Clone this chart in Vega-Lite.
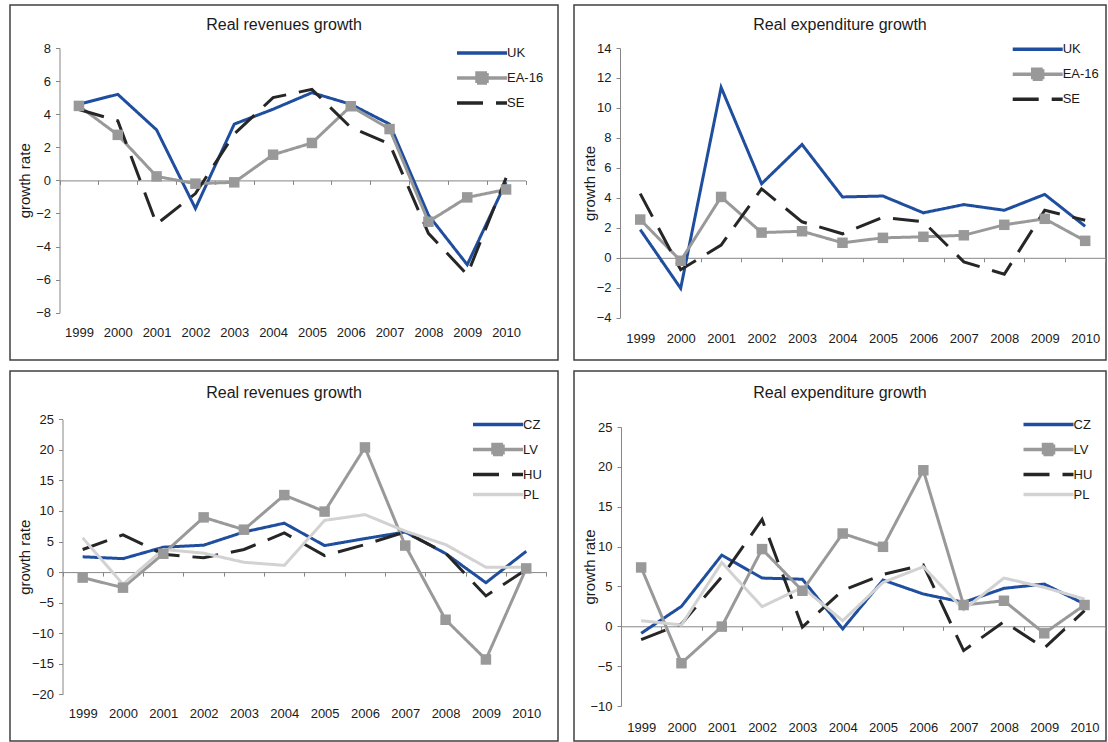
{
  "$schema": "https://vega.github.io/schema/vega-lite/v6.json",
  "padding": {"left": 9, "top": 4, "right": 2, "bottom": 1},
  "background": "white",
  "config": {
    "view": {"stroke": "#404040", "strokeWidth": 1.5},
    "font": "Liberation Sans",
    "axis": {"labelFont": "Liberation Sans", "labelFontSize": 13, "labelColor": "#1a1a1a", "domainColor": "#868686", "tickColor": "#868686", "domainWidth": 1, "tickWidth": 1, "grid": false, "titleFont": "Liberation Sans", "titleFontSize": 15, "titleFontWeight": "normal", "titleColor": "#1a1a1a", "labelOverlap": false},
    "title": {"font": "Liberation Sans", "fontSize": 16, "fontWeight": "normal", "color": "#1a1a1a"},
    "legend": {"padding": 0, "symbolType": "M-5,0H5", "symbolSize": 100, "symbolStrokeWidth": 3.5, "labelOffset": 18, "rowPadding": 6, "labelFontSize": 13, "labelFont": "Liberation Sans", "labelColor": "#1a1a1a"}
  },
  "datasets": {
    "rev1": [
      {"year": "1999", "s": "UK", "v": 4.6}, {"year": "2000", "s": "UK", "v": 5.2}, {"year": "2001", "s": "UK", "v": 3.05}, {"year": "2002", "s": "UK", "v": -1.7}, {"year": "2003", "s": "UK", "v": 3.4}, {"year": "2004", "s": "UK", "v": 4.3}, {"year": "2005", "s": "UK", "v": 5.3}, {"year": "2006", "s": "UK", "v": 4.6}, {"year": "2007", "s": "UK", "v": 3.4}, {"year": "2008", "s": "UK", "v": -2.1}, {"year": "2009", "s": "UK", "v": -5.1}, {"year": "2010", "s": "UK", "v": -0.1},
      {"year": "1999", "s": "EA-16", "v": 4.5}, {"year": "2000", "s": "EA-16", "v": 2.75}, {"year": "2001", "s": "EA-16", "v": 0.24}, {"year": "2002", "s": "EA-16", "v": -0.2}, {"year": "2003", "s": "EA-16", "v": -0.12}, {"year": "2004", "s": "EA-16", "v": 1.55}, {"year": "2005", "s": "EA-16", "v": 2.26}, {"year": "2006", "s": "EA-16", "v": 4.48}, {"year": "2007", "s": "EA-16", "v": 3.1}, {"year": "2008", "s": "EA-16", "v": -2.5}, {"year": "2009", "s": "EA-16", "v": -1.03}, {"year": "2010", "s": "EA-16", "v": -0.55},
      {"year": "1999", "s": "SE", "v": 4.28}, {"year": "2000", "s": "SE", "v": 3.6}, {"year": "2001", "s": "SE", "v": -2.65}, {"year": "2002", "s": "SE", "v": -0.8}, {"year": "2003", "s": "SE", "v": 2.8}, {"year": "2004", "s": "SE", "v": 5.0}, {"year": "2005", "s": "SE", "v": 5.5}, {"year": "2006", "s": "SE", "v": 3.2}, {"year": "2007", "s": "SE", "v": 2.2}, {"year": "2008", "s": "SE", "v": -3.2}, {"year": "2009", "s": "SE", "v": -5.7}, {"year": "2010", "s": "SE", "v": 0.15}
    ],
    "exp1": [
      {"year": "1999", "s": "UK", "v": 1.88}, {"year": "2000", "s": "UK", "v": -2.04}, {"year": "2001", "s": "UK", "v": 11.37}, {"year": "2002", "s": "UK", "v": 4.94}, {"year": "2003", "s": "UK", "v": 7.56}, {"year": "2004", "s": "UK", "v": 4.06}, {"year": "2005", "s": "UK", "v": 4.12}, {"year": "2006", "s": "UK", "v": 3.0}, {"year": "2007", "s": "UK", "v": 3.55}, {"year": "2008", "s": "UK", "v": 3.17}, {"year": "2009", "s": "UK", "v": 4.23}, {"year": "2010", "s": "UK", "v": 2.1},
      {"year": "1999", "s": "EA-16", "v": 2.55}, {"year": "2000", "s": "EA-16", "v": -0.2}, {"year": "2001", "s": "EA-16", "v": 4.06}, {"year": "2002", "s": "EA-16", "v": 1.68}, {"year": "2003", "s": "EA-16", "v": 1.77}, {"year": "2004", "s": "EA-16", "v": 1.0}, {"year": "2005", "s": "EA-16", "v": 1.33}, {"year": "2006", "s": "EA-16", "v": 1.4}, {"year": "2007", "s": "EA-16", "v": 1.5}, {"year": "2008", "s": "EA-16", "v": 2.2}, {"year": "2009", "s": "EA-16", "v": 2.6}, {"year": "2010", "s": "EA-16", "v": 1.13},
      {"year": "1999", "s": "SE", "v": 4.28}, {"year": "2000", "s": "SE", "v": -0.8}, {"year": "2001", "s": "SE", "v": 0.85}, {"year": "2002", "s": "SE", "v": 4.6}, {"year": "2003", "s": "SE", "v": 2.4}, {"year": "2004", "s": "SE", "v": 1.6}, {"year": "2005", "s": "SE", "v": 2.7}, {"year": "2006", "s": "SE", "v": 2.4}, {"year": "2007", "s": "SE", "v": -0.27}, {"year": "2008", "s": "SE", "v": -1.1}, {"year": "2009", "s": "SE", "v": 3.17}, {"year": "2010", "s": "SE", "v": 2.5}
    ],
    "rev2": [
      {"year": "1999", "s": "CZ", "v": 2.5}, {"year": "2000", "s": "CZ", "v": 2.2}, {"year": "2001", "s": "CZ", "v": 4.07}, {"year": "2002", "s": "CZ", "v": 4.4}, {"year": "2003", "s": "CZ", "v": 6.56}, {"year": "2004", "s": "CZ", "v": 8.0}, {"year": "2005", "s": "CZ", "v": 4.34}, {"year": "2006", "s": "CZ", "v": 5.48}, {"year": "2007", "s": "CZ", "v": 6.56}, {"year": "2008", "s": "CZ", "v": 3.04}, {"year": "2009", "s": "CZ", "v": -1.74}, {"year": "2010", "s": "CZ", "v": 3.4},
      {"year": "1999", "s": "LV", "v": -0.9}, {"year": "2000", "s": "LV", "v": -2.55}, {"year": "2001", "s": "LV", "v": 3.0}, {"year": "2002", "s": "LV", "v": 8.95}, {"year": "2003", "s": "LV", "v": 6.94}, {"year": "2004", "s": "LV", "v": 12.6}, {"year": "2005", "s": "LV", "v": 9.9}, {"year": "2006", "s": "LV", "v": 20.4}, {"year": "2007", "s": "LV", "v": 4.34}, {"year": "2008", "s": "LV", "v": -7.8}, {"year": "2009", "s": "LV", "v": -14.3}, {"year": "2010", "s": "LV", "v": 0.6},
      {"year": "1999", "s": "HU", "v": 3.7}, {"year": "2000", "s": "HU", "v": 6.1}, {"year": "2001", "s": "HU", "v": 2.9}, {"year": "2002", "s": "HU", "v": 2.33}, {"year": "2003", "s": "HU", "v": 3.7}, {"year": "2004", "s": "HU", "v": 6.4}, {"year": "2005", "s": "HU", "v": 2.7}, {"year": "2006", "s": "HU", "v": 4.5}, {"year": "2007", "s": "HU", "v": 6.56}, {"year": "2008", "s": "HU", "v": 3.1}, {"year": "2009", "s": "HU", "v": -3.9}, {"year": "2010", "s": "HU", "v": 0.4},
      {"year": "1999", "s": "PL", "v": 5.6}, {"year": "2000", "s": "PL", "v": -2.0}, {"year": "2001", "s": "PL", "v": 3.7}, {"year": "2002", "s": "PL", "v": 3.1}, {"year": "2003", "s": "PL", "v": 1.6}, {"year": "2004", "s": "PL", "v": 1.1}, {"year": "2005", "s": "PL", "v": 8.46}, {"year": "2006", "s": "PL", "v": 9.4}, {"year": "2007", "s": "PL", "v": 6.7}, {"year": "2008", "s": "PL", "v": 4.5}, {"year": "2009", "s": "PL", "v": 0.8}, {"year": "2010", "s": "PL", "v": 0.8}
    ],
    "exp2": [
      {"year": "1999", "s": "CZ", "v": -0.88}, {"year": "2000", "s": "CZ", "v": 2.5}, {"year": "2001", "s": "CZ", "v": 8.93}, {"year": "2002", "s": "CZ", "v": 6.05}, {"year": "2003", "s": "CZ", "v": 5.9}, {"year": "2004", "s": "CZ", "v": -0.33}, {"year": "2005", "s": "CZ", "v": 5.8}, {"year": "2006", "s": "CZ", "v": 4.05}, {"year": "2007", "s": "CZ", "v": 3.0}, {"year": "2008", "s": "CZ", "v": 4.76}, {"year": "2009", "s": "CZ", "v": 5.3}, {"year": "2010", "s": "CZ", "v": 2.8},
      {"year": "1999", "s": "LV", "v": 7.38}, {"year": "2000", "s": "LV", "v": -4.63}, {"year": "2001", "s": "LV", "v": -0.04}, {"year": "2002", "s": "LV", "v": 9.68}, {"year": "2003", "s": "LV", "v": 4.46}, {"year": "2004", "s": "LV", "v": 11.64}, {"year": "2005", "s": "LV", "v": 9.97}, {"year": "2006", "s": "LV", "v": 19.57}, {"year": "2007", "s": "LV", "v": 2.67}, {"year": "2008", "s": "LV", "v": 3.2}, {"year": "2009", "s": "LV", "v": -0.88}, {"year": "2010", "s": "LV", "v": 2.67},
      {"year": "1999", "s": "HU", "v": -1.67}, {"year": "2000", "s": "HU", "v": 0.3}, {"year": "2001", "s": "HU", "v": 6.2}, {"year": "2002", "s": "HU", "v": 13.4}, {"year": "2003", "s": "HU", "v": -0.1}, {"year": "2004", "s": "HU", "v": 4.5}, {"year": "2005", "s": "HU", "v": 6.5}, {"year": "2006", "s": "HU", "v": 7.7}, {"year": "2007", "s": "HU", "v": -3.05}, {"year": "2008", "s": "HU", "v": 0.58}, {"year": "2009", "s": "HU", "v": -2.75}, {"year": "2010", "s": "HU", "v": 1.96},
      {"year": "1999", "s": "PL", "v": 0.7}, {"year": "2000", "s": "PL", "v": 0.17}, {"year": "2001", "s": "PL", "v": 8.0}, {"year": "2002", "s": "PL", "v": 2.46}, {"year": "2003", "s": "PL", "v": 4.88}, {"year": "2004", "s": "PL", "v": 0.7}, {"year": "2005", "s": "PL", "v": 5.5}, {"year": "2006", "s": "PL", "v": 7.47}, {"year": "2007", "s": "PL", "v": 2.08}, {"year": "2008", "s": "PL", "v": 6.05}, {"year": "2009", "s": "PL", "v": 4.88}, {"year": "2010", "s": "PL", "v": 3.42}
    ]
  },
  "spacing": 9,
  "resolve": {"scale": {"color": "independent", "strokeDash": "independent", "x": "independent", "y": "independent"}, "legend": {"color": "independent", "strokeDash": "independent"}},
  "vconcat": [
    {
      "spacing": 14,
      "resolve": {"scale": {"color": "independent", "strokeDash": "independent", "x": "independent", "y": "independent"}, "legend": {"color": "independent", "strokeDash": "independent"}},
      "hconcat": [
        {
          "width": 548, "height": 355,
          "data": {"name": "rev1"},
          "title": {"text": "Real revenues growth", "offset": -36, "baseline": "middle", "anchor": "middle", "frame": "group"},
          "encoding": {
            "x": {"field": "year", "type": "ordinal", "scale": {"type": "band", "range": [49.5, 515.5], "paddingInner": 0, "paddingOuter": 0}, "axis": {"title": null, "offset": -179.6, "tickBand": "extent", "tickSize": 4, "labelPadding": 141.8, "labelAngle": 0}},
            "y": {"field": "v", "type": "quantitative", "scale": {"domain": [-8, 8], "range": [307.7, 43], "nice": false, "zero": false}, "axis": {"title": "growth rate", "offset": -49.5, "values": [-8, -6, -4, -2, 0, 2, 4, 6, 8], "tickSize": 4, "labelPadding": 5, "titleX": -35.5, "titleY": 175.3, "titleAngle": -90, "titleBaseline": "middle", "titleAlign": "center"}}
          },
          "layer": [
            {
              "mark": {"type": "line", "strokeWidth": 3},
              "encoding": {
                "color": {"field": "s", "type": "nominal", "scale": {"domain": ["UK", "EA-16", "SE"], "range": ["#1f4e9e", "#999999", "#262626"]}, "legend": {"title": null, "orient": "none", "legendX": 465, "legendY": 41, "encode": {"symbols": {"update": {"shape": {"signal": "datum.value === 'EA-16' ? 'M-5,0H5M-1,-1H1V1H-1Z' : 'M-5,0H5'"}, "fill": {"value": "#999999"}}}}}},
                "strokeDash": {"field": "s", "type": "nominal", "scale": {"domain": ["UK", "EA-16", "SE"], "range": [[1, 0], [1, 0], [26, 13]]}, "legend": {"title": null, "orient": "none", "legendX": 465, "legendY": 41, "encode": {"symbols": {"update": {"shape": {"signal": "datum.value === 'EA-16' ? 'M-5,0H5M-1,-1H1V1H-1Z' : 'M-5,0H5'"}, "fill": {"value": "#999999"}}}}}}
              }
            },
            {
              "transform": [{"filter": "datum.s === 'EA-16'"}],
              "mark": {"type": "square", "size": 110, "color": "#999999", "opacity": 1}
            }
          ]
        },
        {
          "width": 532, "height": 355,
          "data": {"name": "exp1"},
          "title": {"text": "Real expenditure growth", "offset": -36, "baseline": "middle", "anchor": "middle", "frame": "group"},
          "encoding": {
            "x": {"field": "year", "type": "ordinal", "scale": {"type": "band", "range": [46, 531.4], "paddingInner": 0, "paddingOuter": 0}, "axis": {"title": null, "offset": -102.2, "tickBand": "extent", "tickSize": 4, "labelPadding": 71, "labelAngle": 0}},
            "y": {"field": "v", "type": "quantitative", "scale": {"domain": [-4, 14], "range": [312.7, 43], "nice": false, "zero": false}, "axis": {"title": "growth rate", "offset": -46, "values": [-4, -2, 0, 2, 4, 6, 8, 10, 12, 14], "tickSize": 4, "labelPadding": 5, "titleX": -31, "titleY": 177.9, "titleAngle": -90, "titleBaseline": "middle", "titleAlign": "center"}}
          },
          "layer": [
            {
              "mark": {"type": "line", "strokeWidth": 3},
              "encoding": {
                "color": {"field": "s", "type": "nominal", "scale": {"domain": ["UK", "EA-16", "SE"], "range": ["#1f4e9e", "#999999", "#262626"]}, "legend": {"title": null, "orient": "none", "legendX": 456.7, "legendY": 37.2, "encode": {"symbols": {"update": {"shape": {"signal": "datum.value === 'EA-16' ? 'M-5,0H5M-1,-1H1V1H-1Z' : 'M-5,0H5'"}, "fill": {"value": "#999999"}}}}}},
                "strokeDash": {"field": "s", "type": "nominal", "scale": {"domain": ["UK", "EA-16", "SE"], "range": [[1, 0], [1, 0], [26, 13]]}, "legend": {"title": null, "orient": "none", "legendX": 456.7, "legendY": 37.2, "encode": {"symbols": {"update": {"shape": {"signal": "datum.value === 'EA-16' ? 'M-5,0H5M-1,-1H1V1H-1Z' : 'M-5,0H5'"}, "fill": {"value": "#999999"}}}}}}
              }
            },
            {
              "transform": [{"filter": "datum.s === 'EA-16'"}],
              "mark": {"type": "square", "size": 110, "color": "#999999", "opacity": 1}
            }
          ]
        }
      ]
    },
    {
      "spacing": 14,
      "resolve": {"scale": {"color": "independent", "strokeDash": "independent", "x": "independent", "y": "independent"}, "legend": {"color": "independent", "strokeDash": "independent"}},
      "hconcat": [
        {
          "width": 548, "height": 370,
          "data": {"name": "rev2"},
          "title": {"text": "Real revenues growth", "offset": -37.7, "baseline": "middle", "anchor": "middle", "frame": "group"},
          "encoding": {
            "x": {"field": "year", "type": "ordinal", "scale": {"type": "band", "range": [52.5, 536.4], "paddingInner": 0, "paddingOuter": 0}, "axis": {"title": null, "offset": -168.9, "tickBand": "extent", "tickSize": 4, "labelPadding": 131.7, "labelAngle": 0}},
            "y": {"field": "v", "type": "quantitative", "scale": {"domain": [-20, 25], "range": [323.3, 48.3], "nice": false, "zero": false}, "axis": {"title": "growth rate", "offset": -52.5, "values": [-20, -15, -10, -5, 0, 5, 10, 15, 20, 25], "tickSize": 4, "labelPadding": 5, "titleX": -38.3, "titleY": 185.8, "titleAngle": -90, "titleBaseline": "middle", "titleAlign": "center"}}
          },
          "layer": [
            {
              "mark": {"type": "line", "strokeWidth": 3},
              "encoding": {
                "color": {"field": "s", "type": "nominal", "scale": {"domain": ["CZ", "LV", "HU", "PL"], "range": ["#1f4e9e", "#999999", "#262626", "#d2d2d2"]}, "legend": {"title": null, "orient": "none", "legendX": 481, "legendY": 46.5, "encode": {"symbols": {"update": {"shape": {"signal": "datum.value === 'LV' ? 'M-5,0H5M-1,-1H1V1H-1Z' : 'M-5,0H5'"}, "fill": {"value": "#999999"}}}}}},
                "strokeDash": {"field": "s", "type": "nominal", "scale": {"domain": ["CZ", "LV", "HU", "PL"], "range": [[1, 0], [1, 0], [26, 13], [1, 0]]}, "legend": {"title": null, "orient": "none", "legendX": 481, "legendY": 46.5, "encode": {"symbols": {"update": {"shape": {"signal": "datum.value === 'LV' ? 'M-5,0H5M-1,-1H1V1H-1Z' : 'M-5,0H5'"}, "fill": {"value": "#999999"}}}}}}
              }
            },
            {
              "transform": [{"filter": "datum.s === 'LV'"}],
              "mark": {"type": "square", "size": 110, "color": "#999999", "opacity": 1}
            }
          ]
        },
        {
          "width": 532, "height": 370,
          "data": {"name": "exp2"},
          "title": {"text": "Real expenditure growth", "offset": -37.7, "baseline": "middle", "anchor": "middle", "frame": "group"},
          "encoding": {
            "x": {"field": "year", "type": "ordinal", "scale": {"type": "band", "range": [47, 530.7], "paddingInner": 0, "paddingOuter": 0}, "axis": {"title": null, "offset": -114.7, "tickBand": "extent", "tickSize": 4, "labelPadding": 90.9, "labelAngle": 0}},
            "y": {"field": "v", "type": "quantitative", "scale": {"domain": [-10, 25], "range": [335, 56], "nice": false, "zero": false}, "axis": {"title": "growth rate", "offset": -47, "values": [-10, -5, 0, 5, 10, 15, 20, 25], "tickSize": 4, "labelPadding": 5, "titleX": -32, "titleY": 195.5, "titleAngle": -90, "titleBaseline": "middle", "titleAlign": "center"}}
          },
          "layer": [
            {
              "mark": {"type": "line", "strokeWidth": 3},
              "encoding": {
                "color": {"field": "s", "type": "nominal", "scale": {"domain": ["CZ", "LV", "HU", "PL"], "range": ["#1f4e9e", "#999999", "#262626", "#d2d2d2"]}, "legend": {"title": null, "orient": "none", "legendX": 467.5, "legendY": 46.5, "encode": {"symbols": {"update": {"shape": {"signal": "datum.value === 'LV' ? 'M-5,0H5M-1,-1H1V1H-1Z' : 'M-5,0H5'"}, "fill": {"value": "#999999"}}}}}},
                "strokeDash": {"field": "s", "type": "nominal", "scale": {"domain": ["CZ", "LV", "HU", "PL"], "range": [[1, 0], [1, 0], [26, 13], [1, 0]]}, "legend": {"title": null, "orient": "none", "legendX": 467.5, "legendY": 46.5, "encode": {"symbols": {"update": {"shape": {"signal": "datum.value === 'LV' ? 'M-5,0H5M-1,-1H1V1H-1Z' : 'M-5,0H5'"}, "fill": {"value": "#999999"}}}}}}
              }
            },
            {
              "transform": [{"filter": "datum.s === 'LV'"}],
              "mark": {"type": "square", "size": 110, "color": "#999999", "opacity": 1}
            }
          ]
        }
      ]
    }
  ]
}
